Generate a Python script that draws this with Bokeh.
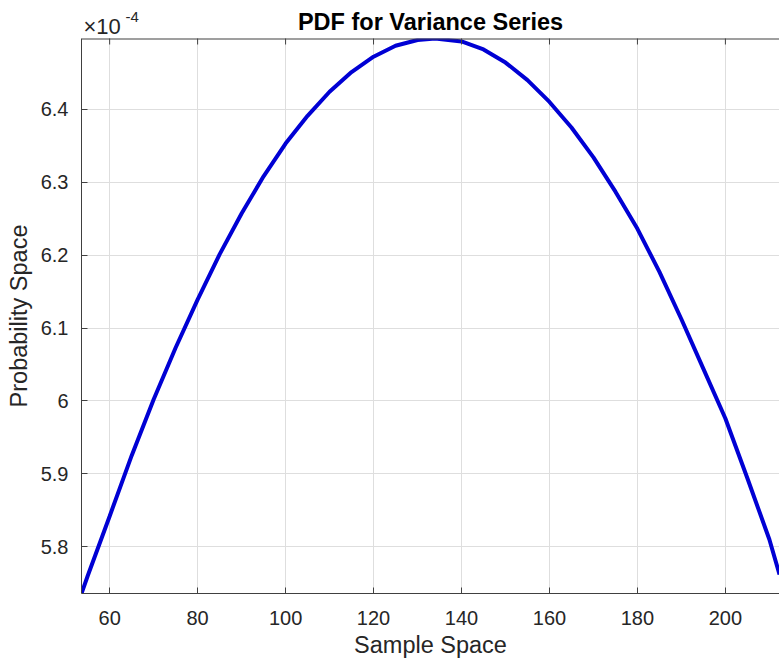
from math import pi
from bokeh.plotting import figure
from bokeh.layouts import column
from bokeh.models import Range1d, FixedTicker, CustomJSTickFormatter, Span
from bokeh.core.properties import value
from bokeh.embed import file_html
from bokeh.resources import INLINE

# Data
sample_space = [53.6, 55, 60, 65, 70, 75, 80, 85, 90, 95, 100, 105, 110, 115,
                120, 125, 130, 134, 140, 145, 150, 155, 160, 165, 170, 175,
                180, 185, 190, 195, 200, 205, 210, 212.3]
probability = [5.736e-4, 5.760e-4, 5.842e-4, 5.925e-4, 6.002e-4, 6.073e-4,
               6.139e-4, 6.201e-4, 6.257e-4, 6.308e-4, 6.353e-4, 6.391e-4,
               6.424e-4, 6.451e-4, 6.472e-4, 6.487e-4, 6.495e-4, 6.497e-4,
               6.493e-4, 6.482e-4, 6.464e-4, 6.440e-4, 6.410e-4, 6.375e-4,
               6.334e-4, 6.287e-4, 6.236e-4, 6.177e-4, 6.112e-4, 6.044e-4,
               5.976e-4, 5.894e-4, 5.810e-4, 5.762e-4]

x_ticks = [60, 80, 100, 120, 140, 160, 180, 200]
y_ticks = [5.8e-4, 5.9e-4, 6.0e-4, 6.1e-4, 6.2e-4, 6.3e-4, 6.4e-4]

title_text = "PDF for Variance Series"
x_label = "Sample Space"
y_label = "Probability Space"
exp_base = "\u00d710"
exp_power = "-4"

FONT = "Liberation Sans"
AX = "#404040"
TXT = "#262626"
GRID = "#dedede"
LEFT = 81

xr = Range1d(min(sample_space), max(sample_space))
yr = Range1d(min(probability), max(probability))

# ---- header strip (title + exponent), shares the x range of the plot ----
head = figure(width=779, height=38, x_range=xr, y_range=Range1d(0, 38),
              x_axis_location=None, y_axis_location=None,
              output_backend="svg", toolbar_location=None,
              min_border_left=LEFT, min_border_right=0,
              min_border_top=0, min_border_bottom=0)
head.outline_line_color = None
head.background_fill_color = "white"
head.border_fill_color = "white"
for g in head.grid:
    g.visible = False
head.text(x=[(xr.start + xr.end) / 2], y=[16.7], text=[title_text],
          text_font=value(FONT), text_font_size="23.5px", text_font_style="bold",
          text_color="black", text_align="center", text_baseline="middle")
head.text(x=[xr.start], y=[12], text=[exp_base], x_offset=2,
          text_font=value(FONT), text_font_size="22px", text_color=TXT,
          text_align="left", text_baseline="middle")
head.text(x=[xr.start], y=[21.5], text=[exp_power], x_offset=44,
          text_font=value(FONT), text_font_size="15px", text_color=TXT,
          text_align="left", text_baseline="middle")

# ---- main plot ----
p = figure(width=779, height=624, output_backend="svg", toolbar_location=None,
           x_range=xr, y_range=yr,
           min_border_left=LEFT, min_border_right=0, min_border_top=0,
           min_border_bottom=69, x_axis_label=x_label, y_axis_label=y_label)

p.background_fill_color = "white"
p.border_fill_color = "white"
p.outline_line_color = None

xt = FixedTicker(ticks=x_ticks)
yt = FixedTicker(ticks=y_ticks)

p.xgrid.ticker = xt
p.ygrid.ticker = yt
for g in (p.xgrid[0], p.ygrid[0]):
    g.grid_line_color = GRID
    g.grid_line_width = 1

p.line(sample_space, probability, line_color="#0000d4", line_width=4)

p.xaxis.ticker = xt
p.yaxis.ticker = yt
p.yaxis.formatter = CustomJSTickFormatter(code="return String(Math.round(tick * 1e5) / 10);")

for ax in (p.xaxis[0], p.yaxis[0]):
    ax.axis_line_color = AX
    ax.axis_line_width = 1
    ax.major_tick_line_color = AX
    ax.major_tick_in = 6
    ax.major_tick_out = 0
    ax.minor_tick_line_color = None
    ax.major_label_text_font = FONT
    ax.major_label_text_font_size = "20px"
    ax.major_label_text_color = TXT
    ax.axis_label_text_font = FONT
    ax.axis_label_text_font_size = "23.5px"
    ax.axis_label_text_font_style = "normal"
    ax.axis_label_text_color = TXT

p.xaxis.major_label_standoff = 17
p.xaxis.axis_label_standoff = 4
p.yaxis.major_label_standoff = 13
p.yaxis.axis_label_standoff = 6

# top box edge and inward top ticks
p.add_layout(Span(location=yr.end, dimension="width", line_color=AX, line_width=2))
p.scatter(x=x_ticks, y=[yr.end] * len(x_ticks), marker="dash", angle=pi / 2,
          size=12, line_color=AX, line_width=1)

layout = column(head, p, spacing=0)
open("out.html", "w").write(file_html(layout, INLINE))
